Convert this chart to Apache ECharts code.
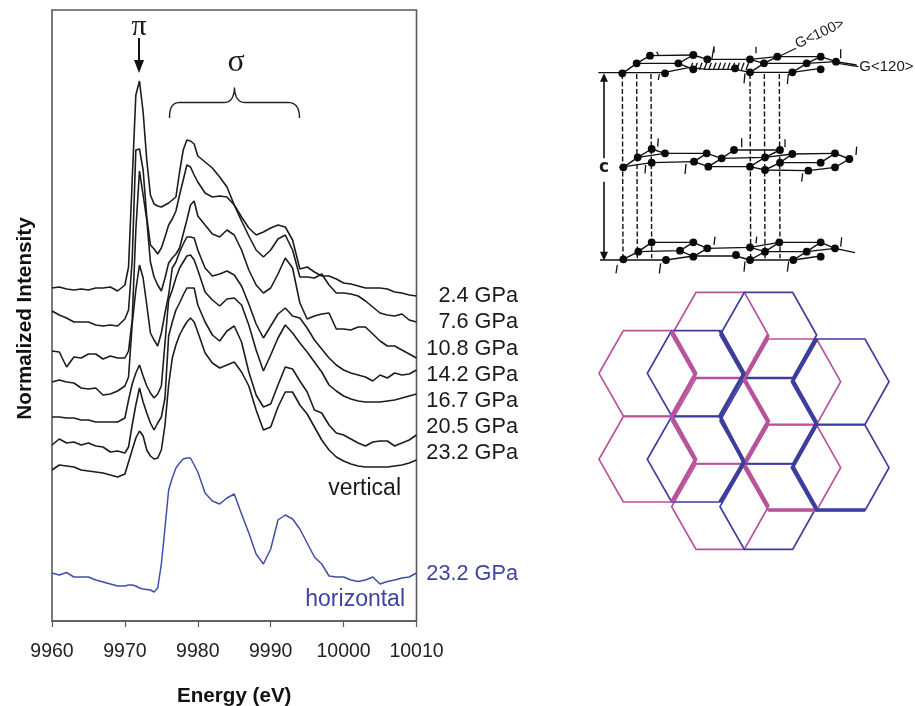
<!DOCTYPE html>
<html><head><meta charset="utf-8">
<style>html,body{margin:0;padding:0;background:#fff}#c{width:915px;height:706px}</style>
<script src="https://cdn.jsdelivr.net/npm/echarts@6/dist/echarts.min.js"></script>
</head><body><div id="c"></div>
<script>
// Photon energy sampling (eV)
const energies = [9960,9961,9962,9963,9964,9965,9966,9967,9968,9969,9970,
 9970.5,9971,9971.5,9972,9972.5,9973,9973.5,9974,9974.5,9975,9975.5,9976,9976.5,9977,9977.5,9978,9978.5,9979,9979.5,9980,
 9981,9982,9983,9984,9985,9986,9987,9988,9989,9990,9991,9992,9993,9994,9995,9996,9997,9998,9999,10000,10001,10002,10003,10004,10005,10006,10007,10008,10009,10010];
// Normalized intensity (offset, arbitrary units)
const v2_4 = [333,334,332,331,332,331,333,333,334,330,336,
 354,441,526,540,509,461,426,417,415,414,416,418,421,424,449,471,481,480,477,465,
 459,453,444,434,416,404,393,386,389,393,396,394,381,352,354,349,345,345,342,338,337,335,333,333,333,332,329,328,326,325];
const v7_6 = [310,306,303,299,299,299,296,295,296,295,302,
 311,361,471,472,451,404,376,372,367,373,384,396,402,410,426,441,456,454,446,439,
 428,424,425,424,416,400,385,371,364,371,382,386,371,344,344,343,347,336,328,328,327,325,320,314,308,306,305,307,301,299];
const v10_8 = [270,269,254,264,263,267,267,262,265,263,263,
 270,301,391,450,426,401,359,344,336,330,343,358,363,367,373,387,401,416,420,405,
 396,387,384,391,386,371,351,336,328,333,347,363,353,318,302,305,307,308,292,292,291,294,294,287,280,275,275,271,267,263];
const v14_2 = [239,241,239,238,233,232,233,226,227,230,235,
 244,297,331,356,343,316,288,281,275,288,308,326,353,359,369,377,384,384,383,371,
 353,345,347,350,346,335,317,297,283,295,307,313,305,303,293,281,272,263,256,251,248,246,244,240,246,243,248,246,247,251];
const v16_7 = [204,204,203,203,201,201,199,199,199,199,203,
 221,237,248,256,245,235,228,223,227,235,278,321,331,343,353,359,365,366,361,351,
 329,321,315,322,323,316,296,271,250,266,283,296,288,278,269,259,249,236,230,225,222,220,219,219,219,220,221,223,225,227];
const v20_5 = [176,182,178,179,176,178,175,174,169,170,168,
 174,196,216,233,219,208,198,191,198,204,223,285,299,311,318,326,333,333,333,316,
 299,286,280,290,295,279,249,226,214,217,236,254,252,240,229,211,208,196,188,186,182,178,175,179,180,180,175,178,181,186];
const v23_2 = [151,156,155,154,151,150,149,148,146,144,147,
 159,171,183,190,185,171,165,162,163,171,196,236,263,276,286,293,299,303,299,289,
 268,258,253,256,259,249,235,211,191,194,214,229,229,216,207,194,181,171,164,160,157,155,154,154,154,154,155,156,158,161];
const v23_2h = [48,46,48.5,44,44,44,41,39,37,35,35,
 36,36,35,33,32,31.5,31,29,33,57,93,131,143,153,158,162,163,163,156,149,
 128,120,117,123,127,107,88,67,57,72,101,106,102,92,78,64,57,45,44,44,41,39.5,41,44,37,39.5,41,43,44,48];
const pressureLabels = ['2.4 GPa','7.6 GPa','10.8 GPa','14.2 GPa','16.7 GPa','20.5 GPa','23.2 GPa'];
const verticalSets = [v2_4,v7_6,v10_8,v14_2,v16_7,v20_5,v23_2];

const FONT='"Liberation Sans",Arial,sans-serif';
const BLACK='#1c1c1c', BLUE='#3f4fa6', TXTBLUE='#3d45a0', PINK='#b9529c', DEEP='#3d3d9e';

const series = verticalSets.map((vals,i)=>({
  name:pressureLabels[i],type:'line',symbol:'none',silent:true,
  lineStyle:{color:BLACK,width:1.6},
  data:energies.map((e,k)=>[e,vals[k]])
}));
series.push({name:'23.2 GPa horizontal',type:'line',symbol:'none',silent:true,
  lineStyle:{color:BLUE,width:1.5},data:energies.map((e,k)=>[e,v23_2h[k]])});

const g=[];
function text(x,y,t,size,opt){opt=opt||{};
  g.push({type:'text',x:x,y:y,rotation:opt.rot||0,z:20,style:{text:t,font:(opt.weight||'normal')+' '+size+'px '+(opt.family||FONT),
    fill:opt.fill||'#1a1a1a',textAlign:opt.align||'left',textVerticalAlign:'middle'}});
}
function poly(pts,color,w,dash){g.push({type:'polyline',z:10,shape:{points:pts},style:{stroke:color,lineWidth:w,fill:null,lineDash:dash||null,lineJoin:'round'}});}
function curve(a,b,c,d){const o=[];for(let i=0;i<=10;i++){const t=i/10,u=1-t;o.push([
  u*u*u*a[0]+3*u*u*t*b[0]+3*u*t*t*c[0]+t*t*t*d[0],u*u*u*a[1]+3*u*u*t*b[1]+3*u*t*t*c[1]+t*t*t*d[1]]);}return o;}

// curve labels
const labelY=[296,322.5,349,375,401,427,453];
pressureLabels.forEach((t,i)=>text(518,labelY[i],t,21.7,{align:'right'}));
text(518,574,'23.2 GPa',21.7,{align:'right',fill:TXTBLUE});
text(401,489,'vertical',23,{align:'right'});
text(405,600,'horizontal',23,{align:'right',fill:TXTBLUE});

// π arrow, σ brace
text(139,27,'π',30,{align:'center',family:'"Liberation Serif",serif'});
text(236,63,'σ',32,{align:'center',family:'"Liberation Serif",serif'});
poly([[139,38],[139,62]],'#111',2);
g.push({type:'polygon',z:10,shape:{points:[[134,60],[144,60],[139,73]]},style:{fill:'#111'}});
poly([].concat(
  curve([169.5,118],[169.5,108],[172,102.5],[180,102.5]),
  curve([224,102.5],[231,102.5],[234,97],[234.5,88]),
  curve([234.5,88],[235,97],[238,102.5],[245,102.5]),
  curve([288,102.5],[296,102.5],[299.5,108],[299.5,118])),'#222',1.4);

// ---- honeycomb bilayer ----
const hx=(zx)=>590+zx/3, hy=(zy)=>280+zy/3;
const hz=a=>a.map(p=>[hx(p[0]),hy(p[1])]);
function hex(cx,cy,color){
  const P=[[cx-72,cy-128],[cx+73,cy-128],[cx+145,cy],[cx+73,cy+128],[cx-72,cy+128],[cx-145,cy]];
  g.push({type:'polygon',z:10,shape:{points:hz(P)},style:{stroke:color,lineWidth:1.7,fill:null,lineJoin:'miter'}});
}
[[172,280],[172,538],[390,165],[390,423],[390,680],[607,305],[607,563]].forEach(c=>hex(c[0],c[1],PINK));
[[317,280],[317,538],[535,165],[535,423],[535,680],[752,305],[752,563]].forEach(c=>hex(c[0],c[1],DEEP));
[[[245,152],[317,280],[245,408],[317,538],[245,666]],[[462,295],[535,165]],[[462,295],[535,423],[462,551]],[[462,551],[535,680]],[[535,690],[680,690]]]
 .forEach(a=>poly(hz(a),PINK,3.6));
[[[390,152],[462,280],[390,408],[462,548],[390,666]],[[680,177],[607,305],[680,433],[607,563],[680,690],[825,690]]]
 .forEach(a=>poly(hz(a),DEEP,3.6));

// ---- graphite crystal sketch ----
const cx=(x)=>590+x/3, cy=(y)=>10+y/3;
const cz=a=>a.map(p=>[cx(p[0]),cy(p[1])]);
const INK='#111';
// hatched basal region
for(let k=0;k<13;k++){const x=300+k*14; poly(cz([[x+8,158],[x,180]]),INK,1.3);}
// layers
const layers=[
 {dots:[[97,190],[140,160],[180,137],[225,190],[265,160],[310,135],[310,178],[352,148],[435,175],[480,148],[480,187],[522,160],[562,140],[607,187],[650,160],[692,140],[692,178],[738,155]],
  lines:[[[25,188],[220,188],[300,172],[350,178],[435,178],[480,187],[607,187],[692,175]],[[97,190],[140,160],[180,137],[310,135]],[[140,160],[265,160],[310,178]],[[265,160],[310,135],[352,148],[480,148],[562,140],[692,140]],[[480,187],[522,160],[650,160],[738,155],[800,165]],[[480,148],[522,160],[562,140]],[[607,187],[650,160],[692,140],[738,155]]],
  stubs:[[[205,210],[208,192]],[[205,135],[200,125]],[[372,128],[372,110],[365,150]],[[498,130],[498,110]],[[462,220],[465,190]],[[592,222],[595,192]],[[752,118],[752,145]]]},
 {dots:[[100,472],[143,442],[185,417],[185,458],[225,430],[312,455],[350,430],[355,470],[395,445],[432,420],[480,470],[525,442],[525,480],[570,420],[570,458],[607,432],[655,482],[692,458],[735,430],[735,472],[778,447]],
  lines:[[[88,472],[185,458],[312,455],[355,470],[480,470],[525,480],[655,482],[735,472],[778,447]],[[143,442],[225,430],[350,430],[395,445],[525,442],[607,432],[735,430]],[[100,472],[143,442],[185,417],[225,430]],[[312,455],[350,430]],[[355,470],[395,445],[432,420],[570,420]],[[480,470],[525,442],[570,420]],[[570,458],[692,458],[735,430],[778,447]],[[525,480],[570,458],[607,432]]],
  stubs:[[[205,385],[203,410]],[[285,492],[288,462]],[[455,385],[455,412]],[[585,388],[585,412]],[[800,410],[798,435]],[[635,515],[638,490]],[[165,490],[167,465]]]},
 {dots:[[100,748],[145,725],[185,697],[228,750],[270,722],[310,697],[310,740],[352,715],[438,735],[480,712],[480,750],[525,725],[568,697],[610,750],[650,725],[692,697],[692,740],[735,715]],
  lines:[[[30,750],[228,750],[310,738],[438,738],[480,750],[610,750],[692,738]],[[100,748],[145,725],[185,697],[310,697],[352,715],[480,712],[568,697],[692,697],[735,715]],[[145,725],[270,722],[310,697]],[[270,722],[310,740]],[[352,715],[310,740]],[[480,750],[525,725],[650,725],[735,715],[795,728]],[[480,712],[525,725],[568,697]],[[610,750],[650,725],[692,697]]],
  stubs:[[[78,790],[82,765]],[[208,790],[212,760]],[[375,680],[372,705]],[[462,785],[465,755]],[[592,785],[596,755]],[[755,682],[752,710]],[[500,680],[498,700]]]}
];
// dashed c-axis guides
[97,140,183,480,523,568].forEach(x=>{
  poly(cz([[x,192],[x+2,745]]),INK,1.4,[5,2.5]);
});
layers.forEach(L=>{
  L.lines.forEach(a=>poly(cz(a),INK,1.4));
  L.stubs.forEach(a=>poly(cz(a),INK,1.3));
  L.dots.forEach(d=>g.push({type:'circle',z:12,shape:{cx:cx(d[0]),cy:cy(d[1]),r:3.9},style:{fill:'#0a0a0a'}}));
});
// c arrow
poly(cz([[42,200],[42,445]]),INK,1.6);
poly(cz([[42,515],[42,740]]),INK,1.6);
g.push({type:'polygon',z:12,shape:{points:cz([[30,215],[54,215],[42,190]])},style:{fill:INK}});
g.push({type:'polygon',z:12,shape:{points:cz([[30,725],[54,725],[42,752]])},style:{fill:INK}});
text(cx(42),cy(473),'c',17,{align:'center',weight:'bold',family:'"DejaVu Sans",sans-serif'});
// G labels
poly(cz([[570,138],[618,115]]),INK,1.2);
poly(cz([[745,160],[805,170]]),INK,1.2);
text(cx(618),cy(105),'G<100>',14.5,{rot:0.44});
text(cx(808),cy(172),'G<120>',15);

const chart=echarts.init(document.getElementById('c'),null,{renderer:'canvas'});
chart.setOption({
  animation:false,backgroundColor:'#fff',
  grid:{left:52,right:915-416.5,top:10,bottom:706-621,show:true,borderColor:'#5a5a5a',borderWidth:1.6,backgroundColor:'transparent',outerBoundsMode:'none',containLabel:false},
  xAxis:{type:'value',min:9960,max:10010,interval:10,
    name:'Energy (eV)',nameLocation:'middle',nameGap:65,
    nameTextStyle:{fontFamily:FONT,fontWeight:'bold',fontSize:20.6,color:'#111'},
    axisLine:{show:true,onZero:false,lineStyle:{color:'#5a5a5a',width:1.6}},
    axisTick:{show:true,length:6,lineStyle:{color:'#5a5a5a',width:1.2}},
    axisLabel:{fontFamily:FONT,fontSize:19.5,color:'#222',margin:21,showMinLabel:true,showMaxLabel:true,formatter:v=>String(v)},
    splitLine:{show:false}},
  yAxis:{type:'value',min:0,max:611,
    name:'Normalized Intensity',nameLocation:'middle',nameGap:16,
    nameTextStyle:{fontFamily:FONT,fontWeight:'bold',fontSize:20.7,color:'#111',padding:[0,6,0,0]},
    axisLine:{show:false},axisTick:{show:false},axisLabel:{show:false},splitLine:{show:false}},
  series:series,
  graphic:g
});
</script></body></html>
